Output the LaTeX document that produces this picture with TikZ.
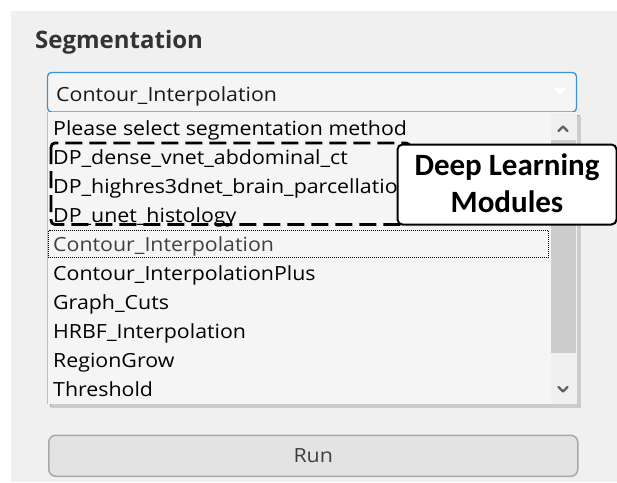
\documentclass[tikz,border=0pt]{standalone}
\usepackage{fontspec}
\setmainfont{Open Sans}[FakeStretch=1.095]
\newfontfamily\titlefont{Open Sans}[FakeStretch=1.0]
\newfontfamily\calloutfont{Carlito}
\usetikzlibrary{calc}
\definecolor{panelbg}{HTML}{F0F0F0}
\definecolor{listbg}{HTML}{F5F5F5}
\definecolor{accent}{HTML}{3A93DB}
\definecolor{thumb}{HTML}{CDCDCD}
\definecolor{arrowgray}{HTML}{606060}
\definecolor{btnfill}{HTML}{E3E3E3}
\definecolor{btnline}{HTML}{A8A8A8}
\definecolor{titlegray}{HTML}{333333}
\tikzset{
  itemtext/.style={anchor=base west, inner sep=0pt, font=\fontsize{19.5}{19.5}\selectfont, text=black},
  titletext/.style={anchor=base west, inner sep=0pt, font=\titlefont\bfseries\fontsize{24}{24}\selectfont, text=titlegray},
  dlbox/.style={draw=black, line width=2.8pt, dash pattern=on 17pt off 7pt, rounded corners=4pt},
  callout/.style={draw=black, line width=2pt, fill=white, rounded corners=5pt, inner sep=0pt},
  callouttext/.style={anchor=base, inner sep=0pt, font=\calloutfont\bfseries\fontsize{31}{31}\selectfont},
  chev/.style={draw=arrowgray, line width=2.2pt, line cap=round, line join=round},
}
\begin{document}
\begin{tikzpicture}[x=1pt,y=-1pt]
\useasboundingbox (0,0) rectangle (617,482);
\fill[white] (0,0) rectangle (617,482);
% panel
\fill[panelbg] (11,11) rectangle (617,482);
% title
\node[titletext] (title) at (35,48.5) {Segmentation};
% combobox
\draw[accent, line width=1.3pt, fill=listbg, rounded corners=4pt] (47.5,72.5) rectangle (576.5,112) ;
\node[itemtext, text=black!90] (combo) at (56,101) {Contour\_Interpolation};
\fill[white] (554,88) -- (566,88) -- (560,95) -- cycle;
% list shadow
\fill[black!35] (50,115) rectangle (580,407);
\fill[black!20] (51,116) rectangle (581,408);
% list
\fill[listbg] (47,112) rectangle (577,404);
\draw[black!25, line width=0.6pt] (47,112) -- (47,404);
% scrollbar
\fill[panelbg] (551,113) rectangle (577,404);
\fill[thumb] (551,140) rectangle (576,353);
\draw[chev] (558.5,131) -- (563,126.5) -- (567.5,131);
\draw[chev] (558.5,387) -- (563,391.5) -- (567.5,387);
% items
\node[itemtext] (i0) at (53,135) {Please select segmentation method};
\node[itemtext] (i1) at (53,164) {DP\_dense\_vnet\_abdominal\_ct};
\node[itemtext] (i2) at (53,193) {DP\_highres3dnet\_brain\_parcellation};
\node[itemtext] (i3) at (53,222) {DP\_unet\_histology};
\node[itemtext, text=black!75] (i4) at (53,251) {Contour\_Interpolation};
\node[itemtext] (i5) at (53,280) {Contour\_InterpolationPlus};
\node[itemtext] (i6) at (53,309) {Graph\_Cuts};
\node[itemtext] (i7) at (53,338) {HRBF\_Interpolation};
\node[itemtext] (i8) at (53,367) {RegionGrow};
\node[itemtext] (i9) at (53,396) {Threshold};
% focus rectangle
\draw[black, line width=0.9pt, dash pattern=on 1pt off 1pt] (48.5,230.5) rectangle (548,257.5);
% deep learning dashed group
\draw[dlbox] (51,143) rectangle (410,224.5);
% callout
\node[callout, minimum width=219pt, minimum height=80pt, anchor=north west] (dl) at (396.5,143.5) {};
\node[callouttext] (dl1) at ($(dl.north)+(0,32)$) {Deep Learning};
\node[callouttext] (dl2) at ($(dl.north)+(0,69)$) {Modules};
% run button
\node[draw=btnline, line width=1.5pt, fill=btnfill, rounded corners=7pt, minimum width=529pt, minimum height=41pt, anchor=north west, inner sep=0pt] (run) at (48,434.5) {};
\node[anchor=base, inner sep=0pt, font=\fontsize{19.5}{19.5}\selectfont, text=black!75] (runl) at ($(run.center)+(0,7)$) {Run};
\end{tikzpicture}
\end{document}
